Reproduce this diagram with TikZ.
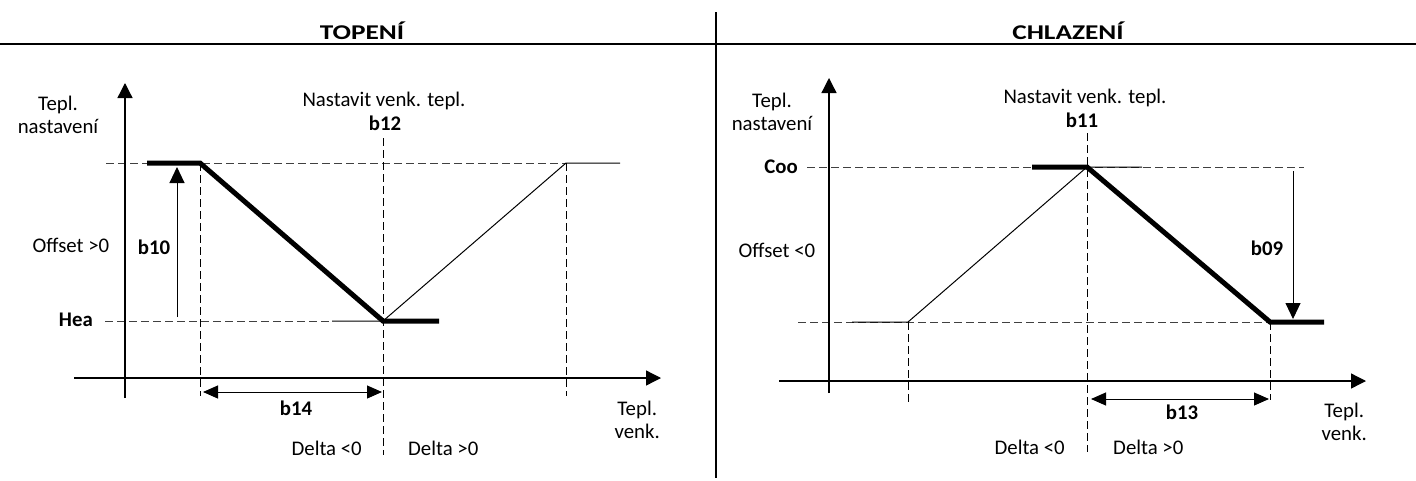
\documentclass[tikz,border=0pt]{standalone}
\usepackage{fontspec}
\setmainfont{Carlito}
\usetikzlibrary{positioning, calc, arrows.meta}
\tikzstyle{Axis} = [line width=1.3pt, -{Triangle[length=15pt,width=15pt]}]
\tikzstyle{Rule} = [line width=2.8pt]
\tikzstyle{Guide} = [line width=1pt, black!75, dash pattern=on 8pt off 4pt]
\tikzstyle{VGuide} = [line width=1pt, dash pattern=on 8pt off 4pt]
\tikzstyle{Curve} = [line width=5pt]
\tikzstyle{Thin} = [line width=1pt]
\tikzstyle{Arrow} = [line width=1pt, -{Triangle[length=16pt,width=15pt]}]
\tikzstyle{Span} = [line width=1pt, {Triangle[length=15pt,width=13pt]}-{Triangle[length=15pt,width=13pt]}]
\tikzstyle{Label} = [font=\fontsize{20.8}{23}\selectfont, inner sep=0pt, align=center]
\tikzstyle{Bold} = [font=\fontsize{20.8}{23}\selectfont\bfseries, inner sep=0pt]
\tikzstyle{Title} = [font=\fontsize{21}{25}\selectfont\bfseries, inner sep=0pt, xscale=1.3, transform shape]

\begin{document}
\begin{tikzpicture}[x=1pt, y=-1pt]
    \useasboundingbox (0,0) rectangle (1416,480);
    % header
    \coordinate (rl) at (0,44);
    \coordinate (rr) at (1416,44);
    \coordinate (dt) at (716,12);
    \coordinate (db) at (716,478);
    \draw[Rule] (rl) -- (rr);
    \draw[line width=1.8pt] (dt) -- (db);
    \node[Title] (ht) at (362,31) {TOPENÍ};
    \node[Title] (ct) at (1068,31) {CHLAZENÍ};

    % TOPENI
    \coordinate (h0) at (125,398);
    \coordinate (hy) at (125,83);
    \coordinate (hx0) at (74,378);
    \coordinate (hx) at (661,378);
    \coordinate (h1) at (200,163);
    \coordinate (h2) at (383,321);
    \coordinate (h3) at (566,163);
    \coordinate (hs) at (147,163);
    \coordinate (he) at (439,321);
    \coordinate (hm) at (332,321);
    \coordinate (hn) at (620,163);
    \coordinate (hg1) at (106,163);
    \coordinate (hg2) at (105,321);
    \coordinate (h1b) at (200,396);
    \coordinate (h2t) at (383,138);
    \coordinate (h2b) at (383,455);
    \coordinate (h3b) at (566,396);
    \coordinate (ha0) at (177,317);
    \coordinate (ha1) at (177,167);
    \coordinate (hb0) at (203,392);
    \coordinate (hb1) at (382,392);
    \node[Label] (hyl) at (58,115) {Tepl.\\nastavení};
    \node[Label, anchor=base] (hset) at (384,106) {Nastavit venk. tepl.};
    \node[Bold, anchor=base] (hb12) at (385,130) {b12};
    \node[Label] (hoff) at (71,245) {Offset >0};
    \node[Bold] (hb10) at (154,247) {b10};
    \node[Bold, anchor=east] (hea) at (93,320) {Hea};
    \node[Bold] (hb14) at (296,408) {b14};
    \node[Label, anchor=east] (hxl) at (660,420) {Tepl.\\venk.};
    \node[Label, anchor=east] (hdn) at (362,448) {Delta <0};
    \node[Label, anchor=west] (hdp) at (408,448) {Delta >0};
    \draw[Guide] (hg1) -- (h3);
    \draw[Guide] (hg2) -- (hm);
    \draw[VGuide] (h1) -- (h1b);
    \draw[VGuide] (h2t) -- (h2b);
    \draw[VGuide] (h3) -- (h3b);
    \draw[Axis] (h0) -- (hy);
    \draw[Axis] (hx0) -- (hx);
    \draw[Thin] (hm) -- (h2) -- (h3) -- (hn);
    \draw[Curve] (hs) -- (h1) -- (h2) -- (he);
    \draw[Arrow] (ha0) -- (ha1);
    \draw[Span] (hb0) -- (hb1);

    % CHLAZENI
    \coordinate (c0) at (829,393);
    \coordinate (cy) at (829,78);
    \coordinate (cx0) at (779,381);
    \coordinate (cx) at (1366,381);
    \coordinate (c1) at (908,322);
    \coordinate (c2) at (1087,167);
    \coordinate (c3) at (1270,322);
    \coordinate (cs) at (1032,167);
    \coordinate (ce) at (1324,322);
    \coordinate (cm) at (852,322);
    \coordinate (cn) at (1142,167);
    \coordinate (cg1) at (807,167);
    \coordinate (cg1e) at (1304,167);
    \coordinate (cg2) at (798,322);
    \coordinate (c1b) at (908,402);
    \coordinate (c2t) at (1087,133);
    \coordinate (c2b) at (1087,452);
    \coordinate (c3b) at (1270,400);
    \coordinate (ca0) at (1293,171);
    \coordinate (ca1) at (1293,319);
    \coordinate (cb0) at (1091,399);
    \coordinate (cb1) at (1269,399);
    \node[Label] (cyl) at (772,112) {Tepl.\\nastavení};
    \node[Label, anchor=base] (cset) at (1085,103) {Nastavit venk. tepl.};
    \node[Bold, anchor=base] (cb11) at (1082,127) {b11};
    \node[Label] (coff) at (777,250) {Offset <0};
    \node[Bold] (cb09) at (1267,248) {b09};
    \node[Bold, anchor=east] (coo) at (798,167) {Coo};
    \node[Bold] (cb13) at (1182,412) {b13};
    \node[Label, anchor=east] (cxl) at (1367,422) {Tepl.\\venk.};
    \node[Label, anchor=east] (cdn) at (1065,447) {Delta <0};
    \node[Label, anchor=west] (cdp) at (1113,447) {Delta >0};
    \draw[Guide] (cg1) -- (cg1e);
    \draw[Guide] (cg2) -- (c3);
    \draw[VGuide] (c1) -- (c1b);
    \draw[VGuide] (c2t) -- (c2b);
    \draw[VGuide] (c3) -- (c3b);
    \draw[Axis] (c0) -- (cy);
    \draw[Axis] (cx0) -- (cx);
    \draw[Thin] (cm) -- (c1) -- (c2) -- (cn);
    \draw[Curve] (cs) -- (c2) -- (c3) -- (ce);
    \draw[Arrow] (ca0) -- (ca1);
    \draw[Span] (cb0) -- (cb1);
\end{tikzpicture}
\end{document}
